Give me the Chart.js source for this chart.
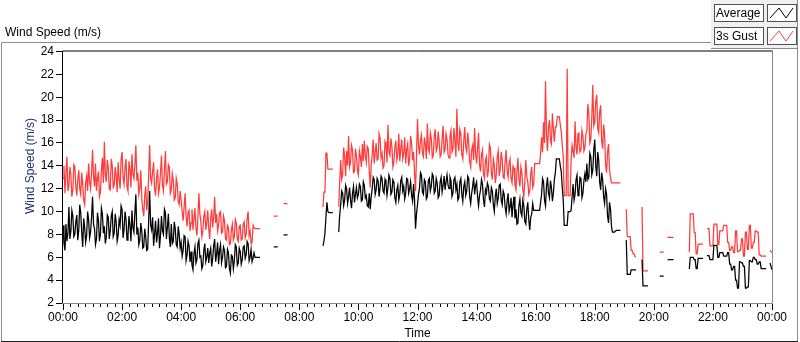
<!DOCTYPE html>
<html>
<head>
<meta charset="utf-8">
<title>Wind Speed (m/s)</title>
<script src="https://cdn.jsdelivr.net/npm/chart.js@4.4.1/dist/chart.umd.min.js"></script>
<style>
  html, body { margin: 0; padding: 0; background: #fff; }
  canvas { display: block; }
</style>
</head>
<body>
<canvas id="wind-chart" width="800" height="342"></canvas>
<script>
// one sample every 2 minutes, 00:00 -> 24:00 (30 per row = 1 hour), null = no data
const SAMPLE_MIN = 2;
const timeLabels = ['00:00', '02:00', '04:00', '06:00', '08:00', '10:00', '12:00',
                    '14:00', '16:00', '18:00', '20:00', '22:00', '00:00'];
const yMin = 2, yMax = 24, yStep = 2;

const average = [
  8.8, 7.2, 6.6, 8.9, 7.4, 8.1, 10.4, 7.6, 8.3, 10.1, 9.6, 7.8, 8.0, 9.1, 9.7, 7.5, 8.4, 10.6, 9.9, 8.2, 6.9, 9.4, 8.6, 7.3, 7.9, 10.0, 9.3, 7.7, 8.2, 9.5,
  11.3, 8.9, 8.5, 7.1, 7.6, 9.9, 9.2, 7.4, 8.0, 10.3, 9.8, 8.1, 8.7, 7.2, 7.8, 9.7, 9.5, 7.6, 8.3, 9.6, 10.0, 7.8, 8.1, 9.8, 9.1, 7.4, 7.9, 9.3, 8.8, 10.5,
  10.2, 7.7, 8.4, 10.0, 9.3, 7.5, 7.9, 9.6, 8.8, 7.4, 10.1, 8.6, 8.2, 9.9, 11.5, 8.0, 8.6, 7.1, 7.5, 9.0, 8.3, 6.8, 6.9, 8.5, 7.8, 6.6, 6.7, 9.2, 11.8, 8.8,
  8.4, 9.5, 7.0, 8.0, 9.2, 7.3, 8.1, 9.4, 6.8, 7.9, 9.6, 8.3, 8.0, 10.2, 9.9, 7.6, 8.6, 9.8, 7.7, 6.9, 8.9, 7.2, 7.4, 9.1, 8.5, 7.1, 6.9, 8.7, 8.0, 6.8,
  7.3, 6.1, 6.6, 7.9, 7.8, 5.7, 6.2, 7.4, 7.0, 5.6, 6.5, 5.3, 4.9, 6.3, 6.9, 5.5, 5.8, 7.2, 7.5, 6.0, 6.1, 5.0, 5.3, 6.6, 7.2, 5.6, 6.0, 6.8, 5.5, 6.4,
  6.8, 5.2, 5.9, 7.0, 7.6, 5.6, 6.3, 7.3, 5.4, 6.6, 7.1, 5.5, 6.0, 6.9, 6.6, 5.1, 5.2, 6.7, 6.4, 5.0, 4.6, 6.2, 6.1, 5.0, 5.7, 7.1, 6.9, 5.3, 5.5, 6.8,
  6.5, 5.4, 5.8, 6.9, 7.0, 5.9, 6.2, 7.4, 7.2, 5.7, 6.0, 6.7, 5.6, 5.9, 6.4, 6.0, 6.0, 6.0, 6.0, 6.0, 6.0, null, null, null, null, null, null, null, null, null,
  null, null, null, null, 6.9, 6.9, 6.9, 6.9, 6.9, null, null, null, null, null, 7.95, 7.95, 7.95, 7.95, 7.95, null, null, null, null, null, null, null, null, null, null, null,
  null, null, null, null, null, null, null, null, null, null, null, null, null, null, null, null, null, null, null, null, null, null, null, null, 7.0, 7.4, 8.1, 9.5, 10.8, 10.0,
  9.9, 9.9, 9.9, 9.9, 9.9, null, null, null, null, null, 8.2, 9.7, 10.6, 11.8, 11.6, 10.5, 11.0, 12.3, 12.0, 10.7, 11.3, 12.1, 11.0, 10.3, 11.6, 12.2, 10.8, 11.5, 12.1, 11.2,
  11.5, 12.4, 12.2, 10.9, 11.0, 12.6, 12.3, 11.2, 11.4, 10.5, 10.4, 11.6, 10.2, 11.3, 12.0, 13.0, 12.8, 11.5, 11.9, 12.9, 12.7, 11.3, 12.1, 13.1, 12.9, 11.8, 11.6, 12.8, 12.5, 11.4,
  12.1, 13.2, 12.9, 11.5, 11.7, 12.8, 12.6, 11.2, 10.8, 11.9, 12.3, 11.0, 11.5, 12.7, 13.0, 11.8, 12.2, 11.1, 11.6, 12.9, 12.8, 11.6, 12.0, 12.6, 11.4, 10.9, 12.4, 11.0, 8.5, 9.8,
  10.6, 11.5, 12.0, 13.4, 13.2, 11.7, 11.5, 12.8, 12.6, 11.1, 11.3, 12.7, 12.9, 11.8, 12.2, 13.3, 13.1, 11.6, 11.8, 12.9, 12.5, 11.2, 11.4, 12.6, 13.0, 11.7, 12.3, 13.1, 11.9, 12.6,
  13.2, 12.3, 12.0, 13.0, 12.7, 11.3, 11.6, 12.8, 13.0, 11.9, 12.4, 11.0, 11.2, 12.6, 12.9, 11.5, 10.9, 12.2, 12.6, 11.4, 11.8, 13.1, 12.9, 11.3, 10.7, 11.6, 12.2, 13.0, 11.5, 12.3,
  12.6, 11.3, 10.5, 11.4, 11.9, 12.8, 12.4, 11.0, 10.4, 11.9, 11.6, 12.5, 12.2, 11.1, 10.9, 12.1, 11.8, 10.6, 10.0, 11.3, 12.0, 10.7, 11.2, 12.3, 12.4, 11.0, 10.6, 11.8, 11.5, 10.4,
  9.8, 10.9, 11.6, 10.0, 10.4, 11.2, 9.5, 10.6, 11.3, 9.4, 10.2, 8.9, 9.0, 10.5, 11.1, 9.9, 9.6, 11.0, 10.5, 9.1, 8.9, 10.2, 10.8, 9.3, 8.4, 9.5, 9.8, 10.7, 10.1, 10.1,
  10.1, 10.1, 10.1, 10.1, 10.1, 10.8, 11.5, 12.9, 12.6, 11.0, 10.5, 12.2, 13.0, 11.6, 11.2, 12.7, 12.1, 10.9, 11.6, 12.8, 13.4, 14.6, 14.6, 14.6, 14.6, 14.0, 13.5, 12.1, 11.0, 8.8,
  8.8, 8.8, 8.8, 10.0, 10.0, 10.0, 10.1, 11.3, 12.4, 11.0, 11.5, 12.8, 13.2, 11.4, 11.8, 13.0, 12.9, 11.2, 11.6, 12.7, 13.3, 12.6, 14.2, 12.8, 13.0, 15.1, 14.8, 13.2, 13.6, 15.4,
  16.3, 14.0, 13.1, 15.2, 14.5, 12.6, 11.9, 13.4, 12.8, 11.3, 10.7, 12.0, 11.5, 9.6, 9.0, 10.8, 10.2, 8.7, 8.2, 8.2, 8.2, 8.3, 8.35, 8.35, 8.35, 8.35, 8.35, null, null, null,
  null, null, 7.5, 4.5, 4.5, 4.5, 4.5, 4.9, 4.9, 4.9, 4.9, 4.9, 4.9, null, null, null, null, null, 5.8, 3.5, 3.5, 3.5, 3.5, 3.5, 3.5, null, null, null, null, null,
  null, null, null, null, null, null, 4.35, 4.35, 4.35, 4.35, 4.35, null, null, null, 5.8, 5.8, 5.8, 5.8, 5.8, 5.8, 5.8, null, null, null, null, null, null, null, null, null,
  null, null, null, null, null, null, 4.97, 6.0, 6.0, 6.0, 6.0, 5.8, 5.8, 5.0, 5.0, 5.9, 5.9, 5.9, 5.9, 5.9, 5.9, null, null, null, 6.15, 6.15, 6.15, 5.8, 5.8, 5.8,
  5.8, 7.05, 7.05, 7.05, 7.05, 6.0, 6.0, 6.4, 6.4, 6.4, 6.4, 6.1, 6.1, 6.1, 6.1, 6.4, 6.4, 5.4, 5.4, 4.9, 4.9, 5.2, 5.2, 4.0, 4.0, 3.3, 3.3, 5.6, 5.6, 5.5,
  5.5, 5.2, 5.2, 3.3, 3.3, 3.4, 3.4, 5.7, 5.7, 5.6, 5.6, 6.0, 6.0, 5.8, 5.8, 5.4, 5.4, 5.6, 5.6, 5.0, 5.0, 5.0, 5.0, 5.0, 5.0, null, null, null, 5.5, 5.2,
  4.9
];

const gust = [
  12.9, 14.0, 11.6, 13.4, 14.8, 11.8, 12.3, 13.9, 13.2, 11.3, 11.9, 14.1, 13.9, 12.2, 11.4, 12.8, 13.6, 12.0, 11.5, 13.4, 12.4, 11.0, 10.6, 12.5, 13.1, 11.8, 14.2, 12.6, 12.0, 13.3,
  15.4, 13.1, 12.2, 14.2, 11.8, 12.9, 13.5, 11.3, 11.7, 13.6, 14.7, 12.5, 16.1, 13.2, 12.6, 14.5, 13.8, 12.0, 11.9, 14.6, 14.0, 12.1, 12.3, 13.9, 13.1, 11.7, 14.3, 12.8, 12.0, 14.6,
  15.2, 13.0, 12.4, 13.8, 14.6, 12.2, 11.8, 14.4, 13.7, 12.1, 15.0, 13.3, 12.9, 14.1, 15.8, 12.7, 13.4, 11.5, 12.0, 13.6, 11.1, 10.2, 9.6, 11.4, 12.2, 10.1, 10.8, 13.2, 15.8, 12.9,
  12.5, 13.5, 14.3, 12.0, 11.4, 12.9, 13.7, 11.6, 12.1, 13.4, 14.9, 12.3, 11.8, 13.6, 15.3, 12.4, 12.6, 14.1, 13.9, 11.6, 11.9, 13.3, 12.7, 11.0, 11.2, 12.9, 12.4, 10.9, 10.6, 11.8,
  11.0, 10.0, 9.2, 10.4, 11.6, 9.6, 8.7, 9.9, 10.1, 8.3, 9.0, 10.2, 8.4, 9.4, 10.3, 8.6, 7.9, 9.5, 11.6, 9.8, 9.1, 7.8, 8.3, 9.6, 10.0, 8.4, 9.0, 10.1, 8.5, 7.6,
  9.4, 10.2, 8.6, 9.5, 11.3, 9.0, 9.8, 8.3, 8.8, 9.9, 10.0, 8.1, 8.2, 9.6, 9.2, 7.6, 7.5, 8.8, 8.6, 7.1, 7.2, 8.4, 8.9, 7.5, 7.8, 9.3, 9.0, 7.6, 7.4, 8.7,
  8.8, 7.5, 7.6, 8.9, 9.1, 7.7, 8.0, 9.4, 10.0, 7.9, 8.3, 7.2, 7.3, 8.8, 8.6, 8.5, 8.5, 8.5, 8.5, 8.5, 8.5, null, null, null, null, null, null, null, null, null,
  null, null, null, null, 9.6, 9.6, 9.6, 9.6, 9.6, null, null, null, null, null, 10.7, 10.7, 10.7, 10.7, 10.7, null, null, null, null, null, null, null, null, null, null, null,
  null, null, null, null, null, null, null, null, null, null, null, null, null, null, null, null, null, null, null, null, null, null, null, null, 10.4, 11.7, 11.7, 15.1, 15.1, 13.7,
  13.7, 13.7, 13.7, 13.7, 13.7, null, null, null, null, null, 10.4, 12.6, 14.5, 12.8, 13.2, 15.6, 14.8, 13.1, 15.3, 14.0, 16.6, 13.9, 14.3, 15.8, 15.4, 13.4, 13.5, 15.5, 14.9, 13.6,
  13.2, 15.3, 14.8, 13.9, 15.9, 14.4, 16.2, 14.9, 14.3, 15.7, 15.5, 13.6, 12.1, 14.1, 15.0, 16.3, 14.2, 15.1, 16.0, 14.5, 14.6, 16.8, 16.4, 14.7, 15.1, 13.8, 14.0, 16.1, 15.8, 14.3,
  17.6, 15.2, 14.9, 16.4, 15.7, 13.9, 14.3, 15.6, 16.2, 14.5, 15.0, 16.8, 14.4, 15.5, 16.3, 14.6, 15.1, 16.5, 14.2, 15.4, 15.9, 14.0, 14.6, 16.6, 16.0, 14.5, 15.2, 13.4, 11.8, 14.9,
  18.1, 15.8, 15.0, 16.2, 16.7, 15.1, 14.8, 16.5, 15.9, 14.6, 17.7, 15.5, 15.2, 16.9, 16.4, 14.7, 14.9, 16.6, 17.2, 15.3, 15.6, 17.0, 16.1, 14.8, 15.0, 16.4, 17.5, 15.2, 15.4, 16.8,
  16.3, 15.0, 14.7, 16.6, 17.1, 15.2, 15.5, 17.3, 16.2, 14.8, 19.0, 16.0, 15.3, 17.2, 16.8, 15.0, 14.6, 16.2, 17.4, 15.6, 15.2, 16.9, 16.0, 14.4, 13.9, 15.4, 15.8, 14.5, 17.3, 15.1,
  14.2, 15.5, 16.9, 14.1, 13.5, 15.0, 15.4, 13.3, 12.9, 14.5, 14.8, 13.0, 13.6, 15.9, 15.6, 13.4, 12.8, 14.6, 14.1, 12.5, 13.2, 14.8, 15.3, 13.1, 13.7, 15.2, 14.6, 13.0, 12.9, 14.4,
  15.4, 13.6, 13.0, 14.2, 14.6, 12.9, 12.5, 14.0, 13.8, 12.3, 11.9, 13.5, 14.7, 12.8, 12.2, 13.9, 13.4, 11.9, 11.3, 12.7, 14.5, 13.0, 12.6, 11.5, 11.8, 13.3, 13.9, 12.1, 12.4, 14.2,
  14.2, 14.2, 14.2, 14.2, 14.2, 15.1, 16.5, 15.2, 17.8, 16.0, 21.4, 16.8, 15.3, 17.4, 18.0, 16.2, 15.9, 18.6, 17.2, 16.1, 17.4, 17.4, 18.3, 18.3, 18.3, 17.6, 17.0, 15.8, 14.9, 11.4,
  11.4, 11.4, 22.5, 11.4, 11.4, 11.4, 14.6, 15.8, 15.3, 14.7, 17.9, 15.6, 15.0, 16.9, 16.1, 15.2, 15.4, 17.1, 16.6, 15.3, 15.6, 16.8, 17.0, 19.4, 18.5, 16.0, 16.3, 18.2, 21.1, 17.5,
  17.8, 19.6, 20.2, 17.3, 16.9, 18.7, 19.3, 16.2, 15.5, 17.6, 16.8, 14.1, 13.4, 15.2, 15.9, 13.6, 13.0, 12.5, 12.5, 12.5, 12.5, 12.5, 12.5, 12.5, 12.5, 12.5, 12.5, null, null, null,
  null, null, 10.2, 7.8, 7.8, 7.8, 7.8, 6.6, 6.6, 6.3, 6.3, 6.05, 6.05, null, null, null, null, null, 10.4, 4.8, 4.8, 4.8, 4.8, 4.8, 4.8, null, null, null, null, null,
  null, null, null, null, null, null, 6.45, 6.45, 6.45, 6.45, 6.45, null, null, null, 7.8, 7.75, 7.75, 7.75, 7.75, 7.75, 7.75, null, null, null, null, null, null, null, null, null,
  null, null, null, null, null, null, 6.45, 9.8, 9.8, 9.8, 9.8, 8.15, 8.15, 6.3, 6.3, 7.15, 7.15, 7.15, 7.15, 7.15, 7.15, null, null, null, 8.5, 8.5, 8.5, 7.0, 7.0, 7.0,
  7.0, 8.9, 8.9, 8.9, 8.9, 7.1, 7.1, 8.3, 8.3, 8.3, 8.3, 8.8, 8.8, 8.8, 8.8, 7.3, 7.3, 6.6, 6.6, 6.9, 6.9, 6.4, 6.4, 8.3, 8.3, 6.5, 6.5, 6.6, 6.6, 7.6,
  7.6, 6.1, 6.1, 8.2, 8.2, 6.7, 6.7, 8.8, 8.8, 6.8, 6.8, 7.3, 7.3, 8.3, 8.3, 8.2, 8.2, 6.2, 6.2, 6.1, 6.1, 6.1, 6.1, 6.1, 6.1, null, null, null, 6.6, 6.5,
  6.4
];

const FONT = '"Liberation Sans", Arial, sans-serif';
const toPoints = (values) => values.map((v, i) => ({ x: i * SAMPLE_MIN, y: v }));

// LabVIEW-ish frame, tick marks, titles and the plot legend
const labviewDecor = {
    id: 'labviewDecor',
    beforeDraw(chart) {
        const ctx = chart.ctx;
        ctx.save();
        ctx.fillStyle = '#fff';
        ctx.fillRect(0, 0, chart.width, chart.height);
        ctx.restore();
    },
    afterDraw(chart) {
        const ctx = chart.ctx;
        const a = chart.chartArea;
        const xs = chart.scales.x;
        ctx.save();

        // outer panel
        ctx.lineWidth = 1;
        ctx.strokeStyle = '#8c8c8c';
        ctx.beginPath();
        ctx.moveTo(1.5, 341); ctx.lineTo(1.5, 42.5); ctx.lineTo(711, 42.5);
        ctx.moveTo(797.5, 48); ctx.lineTo(797.5, 341);
        ctx.stroke();
        ctx.strokeStyle = '#222';
        ctx.beginPath();
        ctx.moveTo(1, 341.5); ctx.lineTo(798, 341.5);
        ctx.stroke();

        // plot frame
        ctx.strokeStyle = '#000';
        ctx.beginPath();
        ctx.moveTo(a.left - 0.5, a.bottom); ctx.lineTo(a.left - 0.5, a.top - 0.5); ctx.lineTo(a.right + 0.5, a.top - 0.5);
        ctx.stroke();
        ctx.strokeStyle = '#8a8a8a';
        ctx.beginPath();
        ctx.moveTo(a.left - 1, a.bottom + 0.5); ctx.lineTo(a.right + 0.5, a.bottom + 0.5); ctx.lineTo(a.right + 0.5, a.top - 1);
        ctx.stroke();

        // x tick marks: long every 2 h, short every 15 min
        ctx.strokeStyle = '#000';
        ctx.beginPath();
        xs.ticks.forEach(t => {
            const px = Math.round(xs.getPixelForValue(t.value)) + 0.5;
            const len = t.value % 120 === 0 ? 6 : 3;
            ctx.moveTo(px, a.bottom + 1); ctx.lineTo(px, a.bottom + 1 + len);
        });
        ctx.stroke();

        // chart caption and axis titles
        ctx.fillStyle = '#000';
        ctx.font = '12px ' + FONT;
        ctx.textAlign = 'left';
        ctx.textBaseline = 'alphabetic';
        ctx.fillText('Wind Speed (m/s)', 5, 36);

        ctx.textAlign = 'center';
        ctx.textBaseline = 'middle';
        ctx.fillText('Time', (a.left + a.right) / 2, 334);

        ctx.save();
        ctx.translate(31, 166);
        ctx.rotate(-Math.PI / 2);
        ctx.fillStyle = '#1d3470';
        ctx.fillText('Wind Speed (m/s)', 0, 0);
        ctx.restore();

        // legend panel
        ctx.fillStyle = '#f0f0f0';
        ctx.fillRect(711, 0, 87, 48);
        ctx.strokeStyle = '#8c8c8c';
        ctx.beginPath();
        ctx.moveTo(711, 48.5); ctx.lineTo(798, 48.5);
        ctx.moveTo(797.5, 0); ctx.lineTo(797.5, 48.5);
        ctx.stroke();

        chart.data.datasets.forEach((ds, k) => {
            const top = 4 + k * 23;
            ctx.fillStyle = '#fff';
            ctx.fillRect(714, top, 49, 17);
            ctx.fillRect(767, top, 29, 17);
            ctx.strokeStyle = '#505050';
            ctx.strokeRect(714.5, top + 0.5, 49, 17);
            ctx.strokeRect(767.5, top + 0.5, 29, 17);

            ctx.fillStyle = '#000';
            ctx.textAlign = 'left';
            ctx.textBaseline = 'middle';
            ctx.fillText(ds.label, 716, top + 9.5);

            ctx.strokeStyle = ds.borderColor;
            ctx.beginPath();
            ctx.moveTo(770, top + 14); ctx.lineTo(779, top + 4);
            ctx.lineTo(786, top + 14); ctx.lineTo(793, top + 4);
            ctx.stroke();
        });

        ctx.restore();
    }
};

new Chart(document.getElementById('wind-chart'), {
    type: 'line',
    data: {
        datasets: [
            {
                label: 'Average',
                data: toPoints(average),
                borderColor: '#000000',
                borderWidth: 1.25,
                pointRadius: 0,
                spanGaps: false,
                order: 0
            },
            {
                label: '3s Gust',
                data: toPoints(gust),
                borderColor: '#ff3b3b',
                borderWidth: 1.25,
                pointRadius: 0,
                spanGaps: false,
                order: 1
            }
        ]
    },
    options: {
        responsive: false,
        animation: false,
        events: [],
        layout: { padding: { left: 0, right: 28, top: 51.5, bottom: 0 } },
        plugins: {
            legend: { display: false },
            tooltip: { enabled: false },
            title: { display: false }
        },
        scales: {
            x: {
                type: 'linear',
                min: 0,
                max: 24 * 60,
                border: { display: false },
                grid: { display: false, drawTicks: false },
                ticks: {
                    stepSize: 15,
                    autoSkip: false,
                    maxRotation: 0,
                    padding: 7,
                    color: '#000',
                    font: { family: FONT, size: 12 },
                    callback: (v) => (v % 120 === 0 ? timeLabels[v / 120] : '')
                },
                afterFit: (scale) => { scale.height = 39; }
            },
            y: {
                min: yMin,
                max: yMax,
                border: { display: false },
                grid: { drawOnChartArea: false, drawTicks: true, tickLength: 7, tickColor: '#000' },
                ticks: {
                    stepSize: yStep,
                    padding: 2,
                    color: '#000',
                    font: { family: FONT, size: 12 }
                },
                afterFit: (scale) => { scale.width = 63; }
            }
        }
    },
    plugins: [labviewDecor]
});
</script>
</body>
</html>
